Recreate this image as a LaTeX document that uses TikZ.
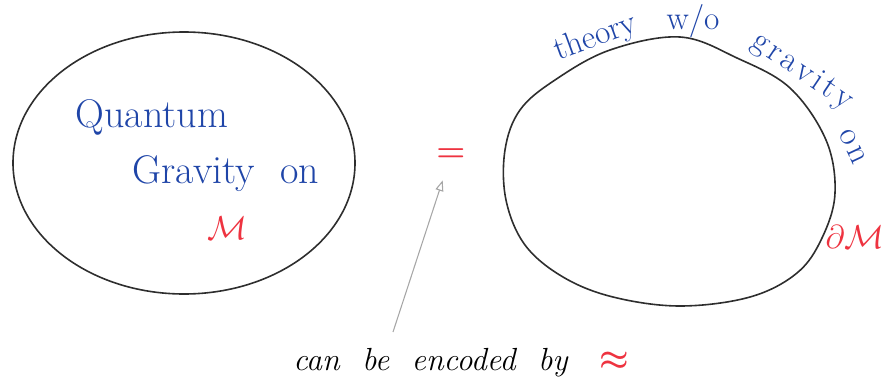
\documentclass[tikz,border=0pt]{standalone}
\usepackage{xcolor}
\usepackage{tikz}
\usetikzlibrary{arrows.meta, calc}
\definecolor{ink}{HTML}{2E2E2E}
\definecolor{penblue}{HTML}{1F45A8}
\definecolor{penred}{HTML}{EE3340}
\definecolor{pencil}{HTML}{A6A6A6}
\newcommand{\spread}{\kern2.5pt}

\begin{document}
\begin{tikzpicture}[
  x=0.75pt, y=-0.75pt,
  region/.style={draw=ink, line width=1.2pt},
  bluetxt/.style={text=penblue, font=\fontsize{30}{32}\selectfont, inner sep=0pt},
  bdy/.style={text=penblue, font=\fontsize{25}{28}\selectfont, inner sep=0pt},
  redtxt/.style={text=penred, inner sep=0pt},
  note/.style={font=\fontsize{24}{26}\selectfont\itshape, inner sep=0pt},
  pointer/.style={draw=pencil, line width=0.8pt,
                  -{Triangle[open, length=8pt, width=6pt]}}
]
  \useasboundingbox (0,0) rectangle (886,389);

  % bulk
  \draw[region] (184,163) ellipse [x radius=171, y radius=131];
  \node[bluetxt, anchor=base] (quantum) at (152,127) {Quantum};
  \node[bluetxt, anchor=base] (gravity) at (226,183) {Gravity\,\, on};
  \node[redtxt, font=\fontsize{30}{32}\selectfont] (bulkM) at (227,228) {$\mathcal{M}$};

  \node[redtxt, font=\fontsize{30}{32}\selectfont\boldmath] (eq) at (451,155) {$=$};

  % boundary
  \draw[region] plot[smooth cycle, tension=0.6] coordinates {
    (680,37) (737,58) (790,88) (826,140) (835,193) (822,238) (797,273)
    (750,297) (680,306) (613,297) (563,277) (525,245) (506,200) (505,150)
    (520,110) (555,80) (610,50)};
  \node[bdy, rotate=20] (theory) at (596,38) {theory};
  \node[bdy] (wo) at (693,21) {w/o};
  \node[bdy, rotate=-34] (grav) at (802,72)
    {g\spread r\spread a\spread v\spread i\spread t\spread y};
  \node[bdy, rotate=-65] (on) at (853,147) {o\spread n};
  \node[redtxt, font=\fontsize{24}{26}\selectfont] (dM) at (855,237) {$\partial\mathcal{M}$};

  % encoding
  \node[note, anchor=base west] (enc) at (293,370) {can\ \ be\ \ encoded\ \ by};
  \node[redtxt, font=\fontsize{28}{30}\selectfont\boldmath] (approx) at (614,361) {$\approx$};
  \coordinate (tail) at (393,332);
  \draw[pointer, shorten >=20pt] (tail) -- (eq.center);
\end{tikzpicture}
\end{document}
